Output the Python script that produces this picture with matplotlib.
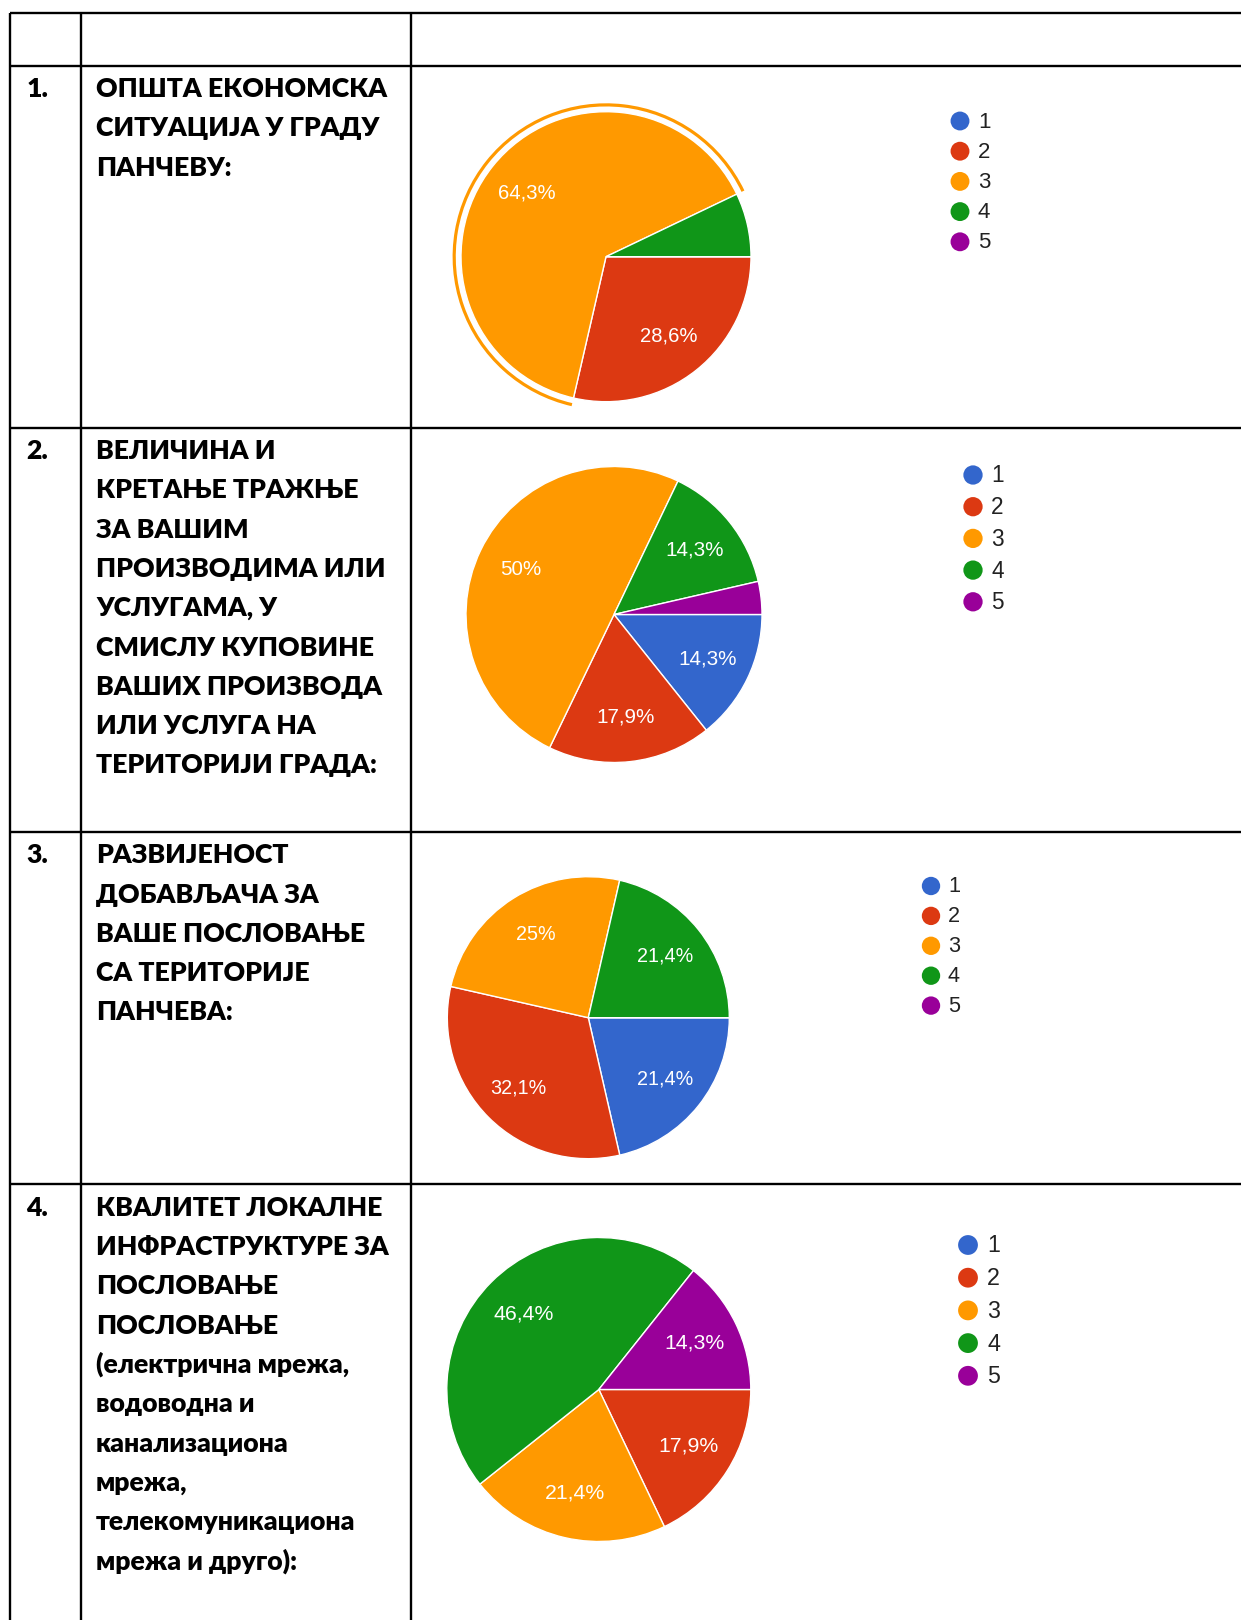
import matplotlib
matplotlib.use("Agg")
import numpy as np
import matplotlib.pyplot as plt
from matplotlib.patches import Wedge

# ---------------- data ----------------
categories = ["1", "2", "3", "4", "5"]
colors = ["#3366CC", "#DC3912", "#FF9900", "#109618", "#990099"]

row_numbers = ["1.", "2.", "3.", "4."]
row_texts = [
    ["ОПШТА ЕКОНОМСКА", "СИТУАЦИЈА У ГРАДУ", "ПАНЧЕВУ:"],
    ["ВЕЛИЧИНА И", "КРЕТАЊЕ ТРАЖЊЕ", "ЗА ВАШИМ", "ПРОИЗВОДИМА ИЛИ",
     "УСЛУГАМА, У", "СМИСЛУ КУПОВИНЕ", "ВАШИХ ПРОИЗВОДА", "ИЛИ УСЛУГА НА",
     "ТЕРИТОРИЈИ ГРАДА:"],
    ["РАЗВИЈЕНОСТ", "ДОБАВЉАЧА ЗА", "ВАШЕ ПОСЛОВАЊЕ", "СА ТЕРИТОРИЈЕ",
     "ПАНЧЕВА:"],
    ["КВАЛИТЕТ ЛОКАЛНЕ", "ИНФРАСТРУКТУРЕ ЗА", "ПОСЛОВАЊЕ", "ПОСЛОВАЊЕ",
     "(електрична мрежа,", "водоводна и", "канализациона", "мрежа,",
     "телекомуникациона", "мрежа и друго):"],
]

# percentage shares per answer 1..5
q1_values = [0.0, 28.6, 64.3, 7.1, 0.0]
q2_values = [14.3, 17.9, 50.0, 14.3, 3.6]
q3_values = [21.4, 32.1, 25.0, 21.4, 0.0]
q4_values = [0.0, 17.9, 21.4, 46.4, 14.3]
all_values = [q1_values, q2_values, q3_values, q4_values]
highlighted = [2, None, None, None]   # slice with selection ring (chart 1: answer 3)

# ---------------- layout (pixels) ----------------
W, H = 1241, 1620
col_x = [10.3, 80.6, 411.0]
row_y = [12.5, 65.7, 427.5, 831.8, 1184.2]
line_pitch = 39.3
first_base_off = 31.5

pie_geom = [  # cx, cy, R
    (606.0, 256.7, 145.0),
    (614.0, 614.5, 148.0),
    (588.3, 1017.7, 141.0),
    (598.8, 1389.5, 152.0),
]
legend_geom = [  # circle x, first y, pitch, label x
    (960.0, 121.0, 30.2, 978.0),
    (973.0, 475.0, 31.7, 991.0),
    (931.0, 886.0, 29.9, 948.0),
    (968.0, 1245.0, 32.7, 987.0),
]

fig = plt.figure(figsize=(W / 100, H / 100), dpi=100)
fig.patch.set_facecolor("white")
ax = fig.add_axes([0, 0, 1, 1])
ax.set_xlim(0, W)
ax.set_ylim(H, 0)
ax.axis("off")

# table grid
lw = 1.7
for y in row_y:
    ax.plot([col_x[0], W], [y, y], color="black", lw=lw, solid_capstyle="butt")
for x in col_x:
    ax.plot([x, x], [row_y[0], H], color="black", lw=lw, solid_capstyle="butt")

# left column text (Lato, sized so the first line width matches)
text_font = "Lato"
text_weight = "heavy"
renderer = fig.canvas.get_renderer()
probe = ax.text(0, 0, row_texts[0][0], fontsize=20, family=text_font,
                fontweight=text_weight)
w20 = probe.get_window_extent(renderer).width
probe.remove()
fs_text = 20 * 290.6 / w20

for i, (num, lines) in enumerate(zip(row_numbers, row_texts)):
    base = row_y[i + 1] + first_base_off
    ax.text(26.5, base, num, fontsize=fs_text, family=text_font,
            fontweight=text_weight, va="baseline", ha="left", color="black")
    for j, line in enumerate(lines):
        ax.text(96.0, base + j * line_pitch, line, fontsize=fs_text,
                family=text_font, fontweight=text_weight, va="baseline",
                ha="left", color="black")


def fmt_pct(v):
    s = f"{v:.1f}"
    if s.endswith(".0"):
        s = s[:-2]
    return s.replace(".", ",") + "%"


# pies
for k, vals in enumerate(all_values):
    cx, cy, R = pie_geom[k]
    Rb = R * 1.1
    pax = fig.add_axes([(cx - Rb) / W, 1 - (cy + Rb) / H, 2 * Rb / W, 2 * Rb / H])
    wedges, _ = pax.pie(vals, colors=colors, startangle=0, counterclock=False,
                        radius=1.0,
                        wedgeprops=dict(edgecolor="white", linewidth=1.0))
    pax.set_xlim(-1.1, 1.1)
    pax.set_ylim(-1.1, 1.1)
    pax.set_aspect("equal")
    pax.axis("off")
    scale = R / 145.0
    for w, v in zip(wedges, vals):
        if v < 10:
            continue
        mid = np.deg2rad((w.theta1 + w.theta2) / 2)
        d = 0.70
        pax.text(d * np.cos(mid), d * np.sin(mid), fmt_pct(v), color="white",
                 fontsize=14.6 * scale, family="Liberation Sans",
                 ha="center", va="center")
    h = highlighted[k]
    if h is not None:
        w = wedges[h]
        ring = Wedge((0, 0), 1.058, w.theta1, w.theta2, width=0.022,
                     facecolor=colors[h], edgecolor="none")
        pax.add_patch(ring)

    # legend
    lx, ly, pitch, tx = legend_geom[k]
    for c, (cat, col) in enumerate(zip(categories, colors)):
        yy = ly + c * pitch
        ax.scatter([lx], [yy], s=185 * scale ** 2, color=col, edgecolors="none",
                   zorder=3)
        ax.text(tx, yy + 1, cat, fontsize=16.0 * scale, family="Liberation Sans",
                color="#222222", ha="left", va="center")

fig.savefig("out.png", dpi=100, facecolor="white")
